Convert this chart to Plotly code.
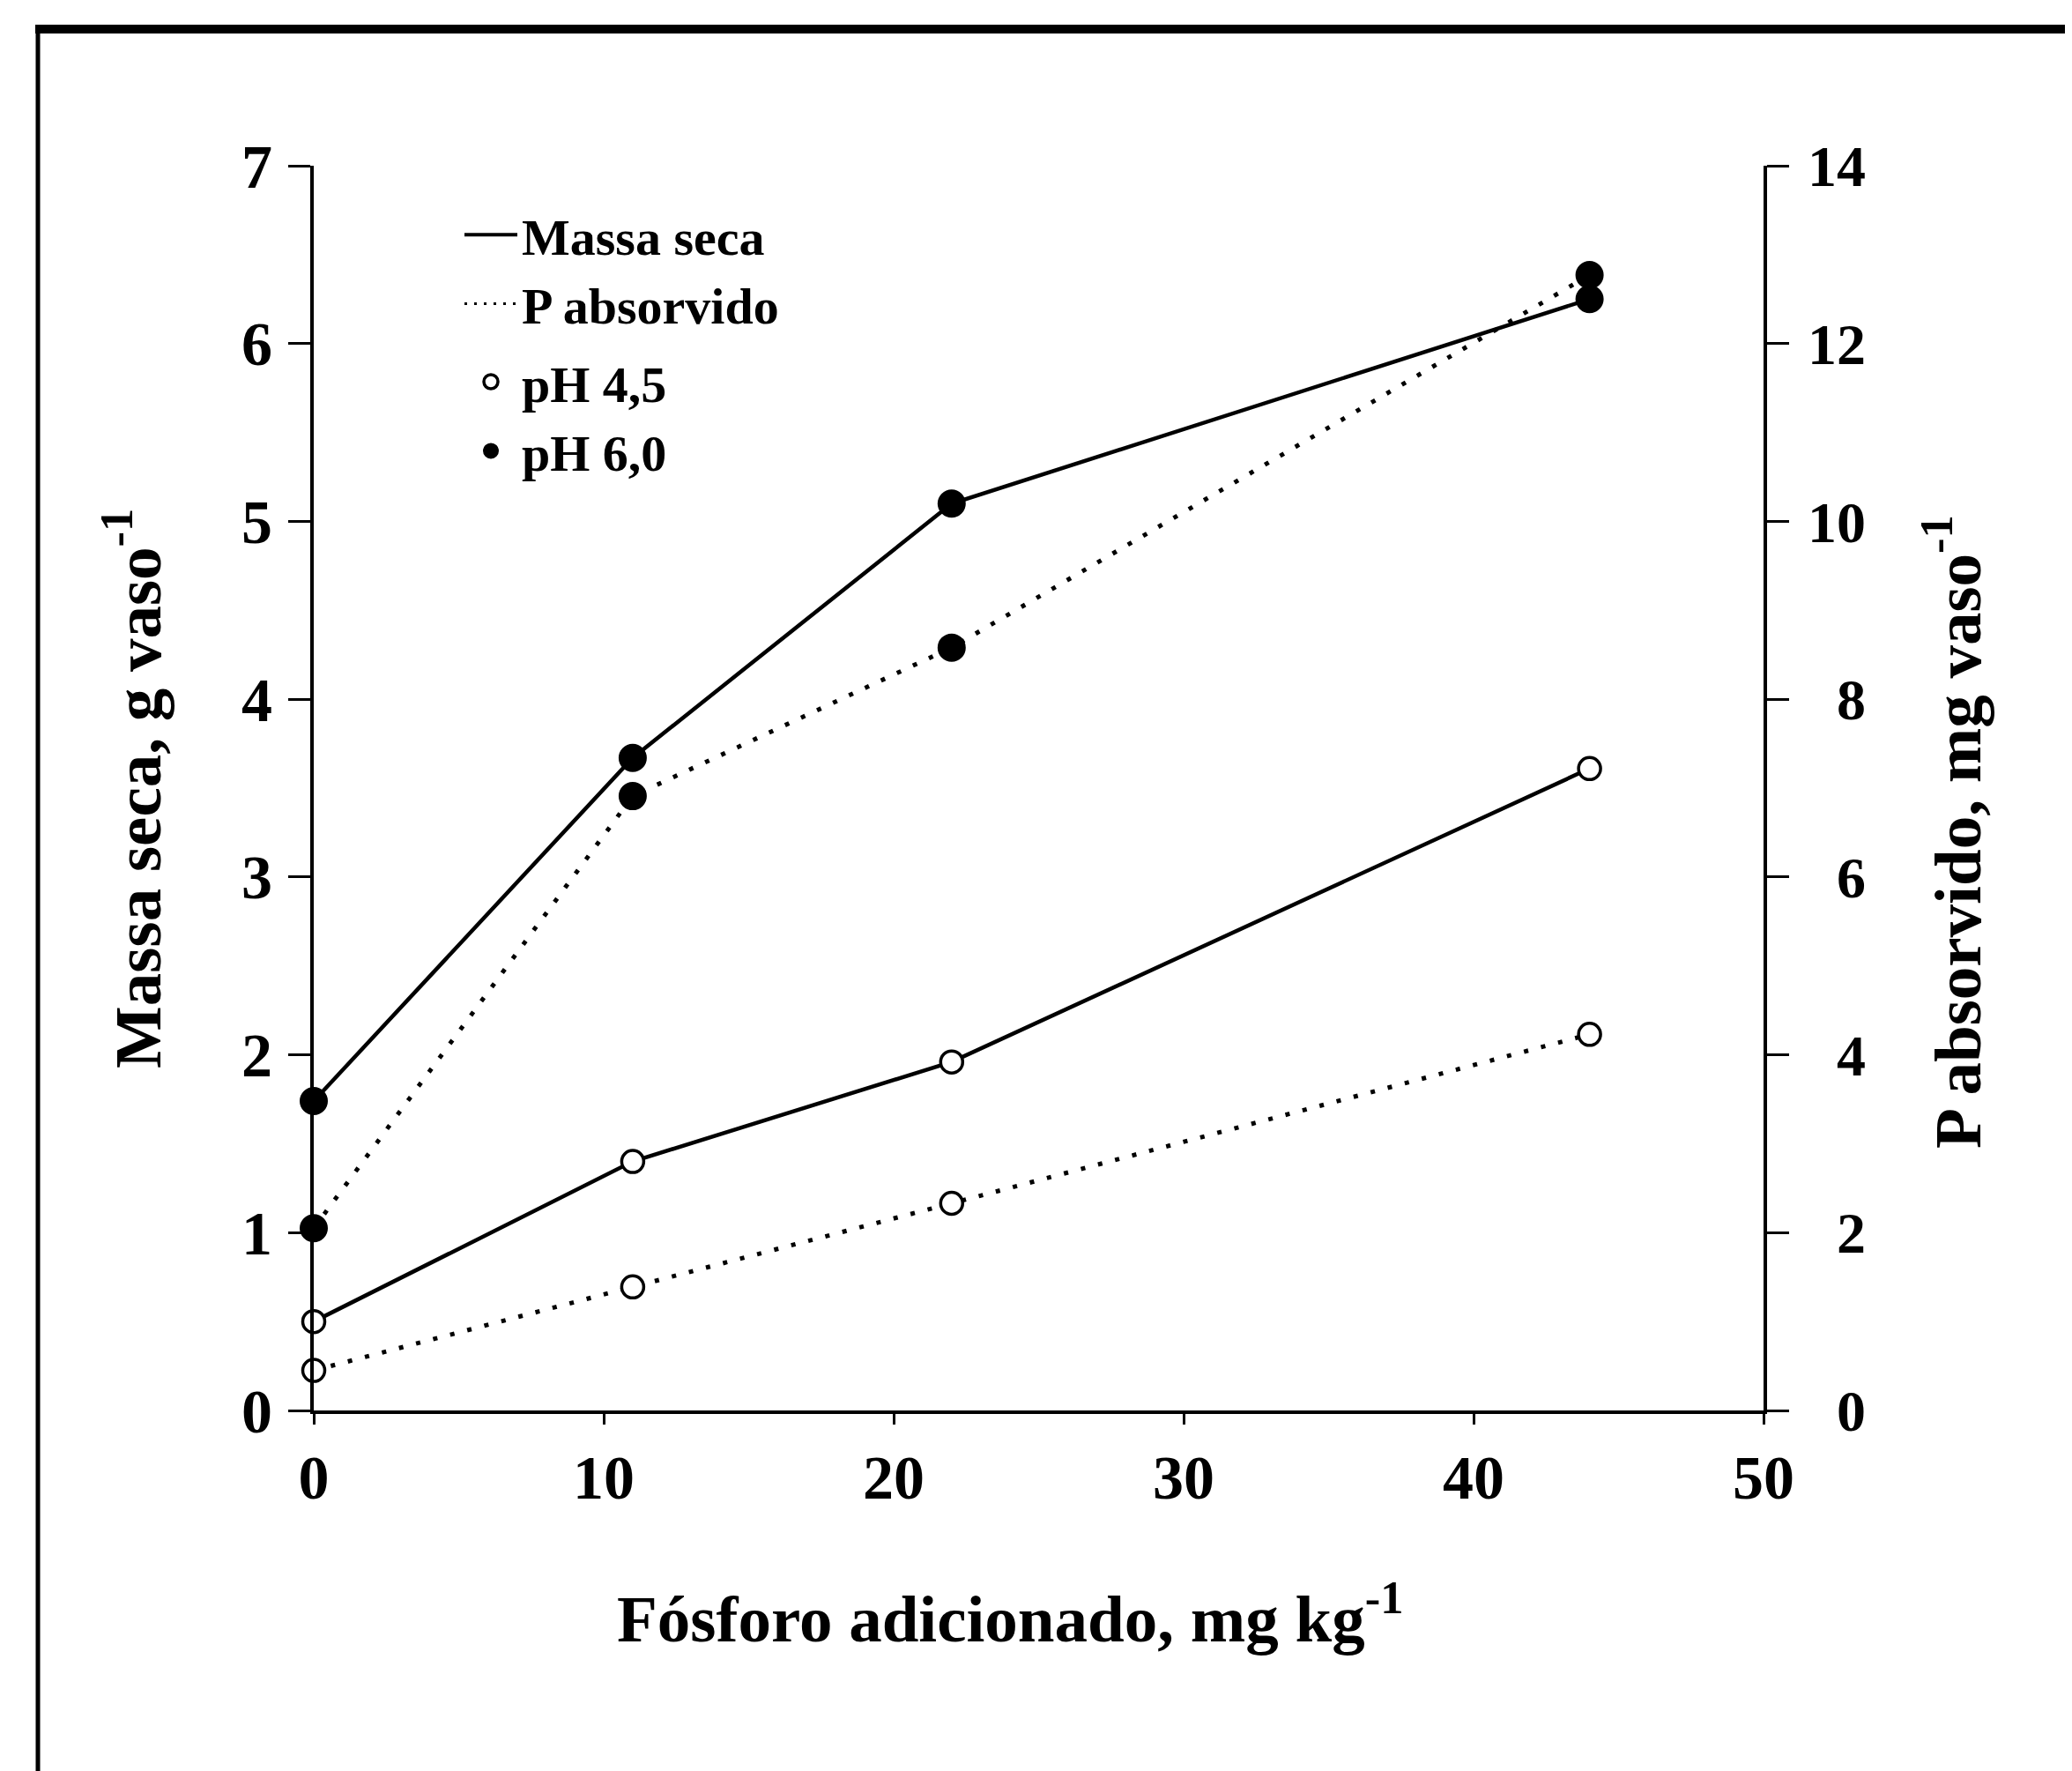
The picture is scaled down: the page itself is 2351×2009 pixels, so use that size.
import plotly.graph_objects as go

# ---- data ----
p_added = [0, 11, 22, 44]
massa_ph45 = [0.50, 1.40, 1.96, 3.61]
massa_ph60 = [1.74, 3.67, 5.10, 6.25]
pabs_ph45 = [0.45, 1.39, 2.33, 4.23]
pabs_ph60 = [2.05, 6.91, 8.58, 12.77]

x_ticks = [0, 10, 20, 30, 40, 50]
y_left_ticks = [0, 1, 2, 3, 4, 5, 6, 7]
y_right_ticks = [0, 2, 4, 6, 8, 10, 12, 14]

legend_labels = ["Massa seca", "P absorvido", "pH 4,5", "pH 6,0"]
x_title = "Fósforo adicionado, mg kg<sup>-1</sup>"
y_title = "Massa seca, g vaso<sup>-1</sup>"
y2_title = "P absorvido, mg vaso<sup>-1</sup>"

FONT = "Liberation Serif"
W, H = 2351, 2009
OFF = 8  # page body margin
# plot area in page pixels: x 356..2001, y 188..1600
L = 356 - OFF
T = 188 - OFF
R = W - (2001 - OFF)
B = H - (1600 - OFF)
PW, PH = W - L - R, H - T - B

def px_x(px):
    return (px - OFF - L) / PW

def px_y(py):
    return (H - B - (py - OFF)) / PH

solid = dict(color="black", width=4.5)
dotted = dict(color="black", width=5, dash="5px,15px")
filled = dict(symbol="circle", size=30, color="black", line=dict(color="black", width=2))
opened = dict(symbol="circle", size=25, color="white", line=dict(color="black", width=3.5))

fig = go.Figure()

fig.add_trace(go.Scatter(x=p_added, y=massa_ph60, mode="lines+markers", line=solid,
                         marker=filled, showlegend=False, cliponaxis=False))
fig.add_trace(go.Scatter(x=p_added, y=pabs_ph60, mode="lines+markers", line=dotted,
                         marker=filled, yaxis="y2", showlegend=False, cliponaxis=False))
fig.add_trace(go.Scatter(x=p_added, y=massa_ph45, mode="lines+markers", line=solid,
                         marker=opened, showlegend=False, cliponaxis=False))
fig.add_trace(go.Scatter(x=p_added, y=pabs_ph45, mode="lines+markers", line=dotted,
                         marker=opened, yaxis="y2", showlegend=False, cliponaxis=False))

# legend entries
fig.add_trace(go.Scatter(x=[None], y=[None], mode="lines", line=dict(color="black", width=4),
                         name=legend_labels[0], legendgroup="a"))
fig.add_trace(go.Scatter(x=[None], y=[None], mode="lines", line=dict(color="black", width=3, dash="3px,8px"),
                         name=legend_labels[1], legendgroup="a"))
fig.add_trace(go.Scatter(x=[None], y=[None], mode="markers", marker=opened,
                         name=legend_labels[2], legendgroup="b"))
fig.add_trace(go.Scatter(x=[None], y=[None], mode="markers", marker=filled,
                         name=legend_labels[3], legendgroup="b"))

right_text = [("\u2007" + str(v)) if v < 10 else str(v) for v in y_right_ticks]

fig.update_layout(
    width=W, height=H,
    margin=dict(l=L, r=R, t=T, b=B),
    paper_bgcolor="white", plot_bgcolor="white",
    font=dict(family=FONT, size=70, color="black", weight="bold"),
    showlegend=True,
    legend=dict(x=px_x(522), y=px_y(222), xanchor="left", yanchor="top",
                bgcolor="rgba(0,0,0,0)", font=dict(family=FONT, size=58, weight="bold"),
                itemwidth=60, tracegroupgap=10, traceorder="grouped"),
    xaxis=dict(range=[0, 50], tickvals=x_ticks, showgrid=False, zeroline=False,
               showline=True, linecolor="black", linewidth=4,
               ticks="outside", ticklen=12, tickwidth=3, tickcolor="black",
               ticklabelstandoff=0,
               tickfont=dict(family=FONT, size=70, weight="bold")),
    yaxis=dict(range=[0, 7], tickvals=y_left_ticks, showgrid=False, zeroline=False,
               showline=True, linecolor="black", linewidth=4,
               ticks="outside", ticklen=25, tickwidth=3, tickcolor="black",
               ticklabelstandoff=4,
               tickfont=dict(family=FONT, size=70, weight="bold")),
    yaxis2=dict(range=[0, 14], tickvals=y_right_ticks, ticktext=right_text,
                overlaying="y", side="right", anchor="x",
                showgrid=False, zeroline=False,
                showline=True, linecolor="black", linewidth=3.5,
                ticks="outside", ticklen=25, tickwidth=3, tickcolor="black",
                ticklabelstandoff=8,
                tickfont=dict(family=FONT, size=66, weight="bold")),
    annotations=[
        dict(text=x_title, xref="paper", yref="paper", x=px_x(1146), y=px_y(1830),
             xanchor="center", yanchor="middle", showarrow=False,
             font=dict(family=FONT, size=75, weight="bold")),
        dict(text=y_title, xref="paper", yref="paper", x=px_x(150), y=px_y(895),
             xanchor="center", yanchor="middle", showarrow=False, textangle=-90,
             font=dict(family=FONT, size=75, weight="bold")),
        dict(text=y2_title, xref="paper", yref="paper", x=px_x(2215), y=px_y(944),
             xanchor="center", yanchor="middle", showarrow=False, textangle=-90,
             font=dict(family=FONT, size=75, weight="bold")),
    ],
    shapes=[
        dict(type="line", xref="paper", yref="paper", x0=px_x(40), x1=px_x(2400),
             y0=px_y(33), y1=px_y(33), line=dict(color="black", width=10)),
        dict(type="line", xref="paper", yref="paper", x0=px_x(43), x1=px_x(43),
             y0=px_y(29), y1=px_y(2050), line=dict(color="black", width=5)),
    ],
)

fig.write_html("out.html")
